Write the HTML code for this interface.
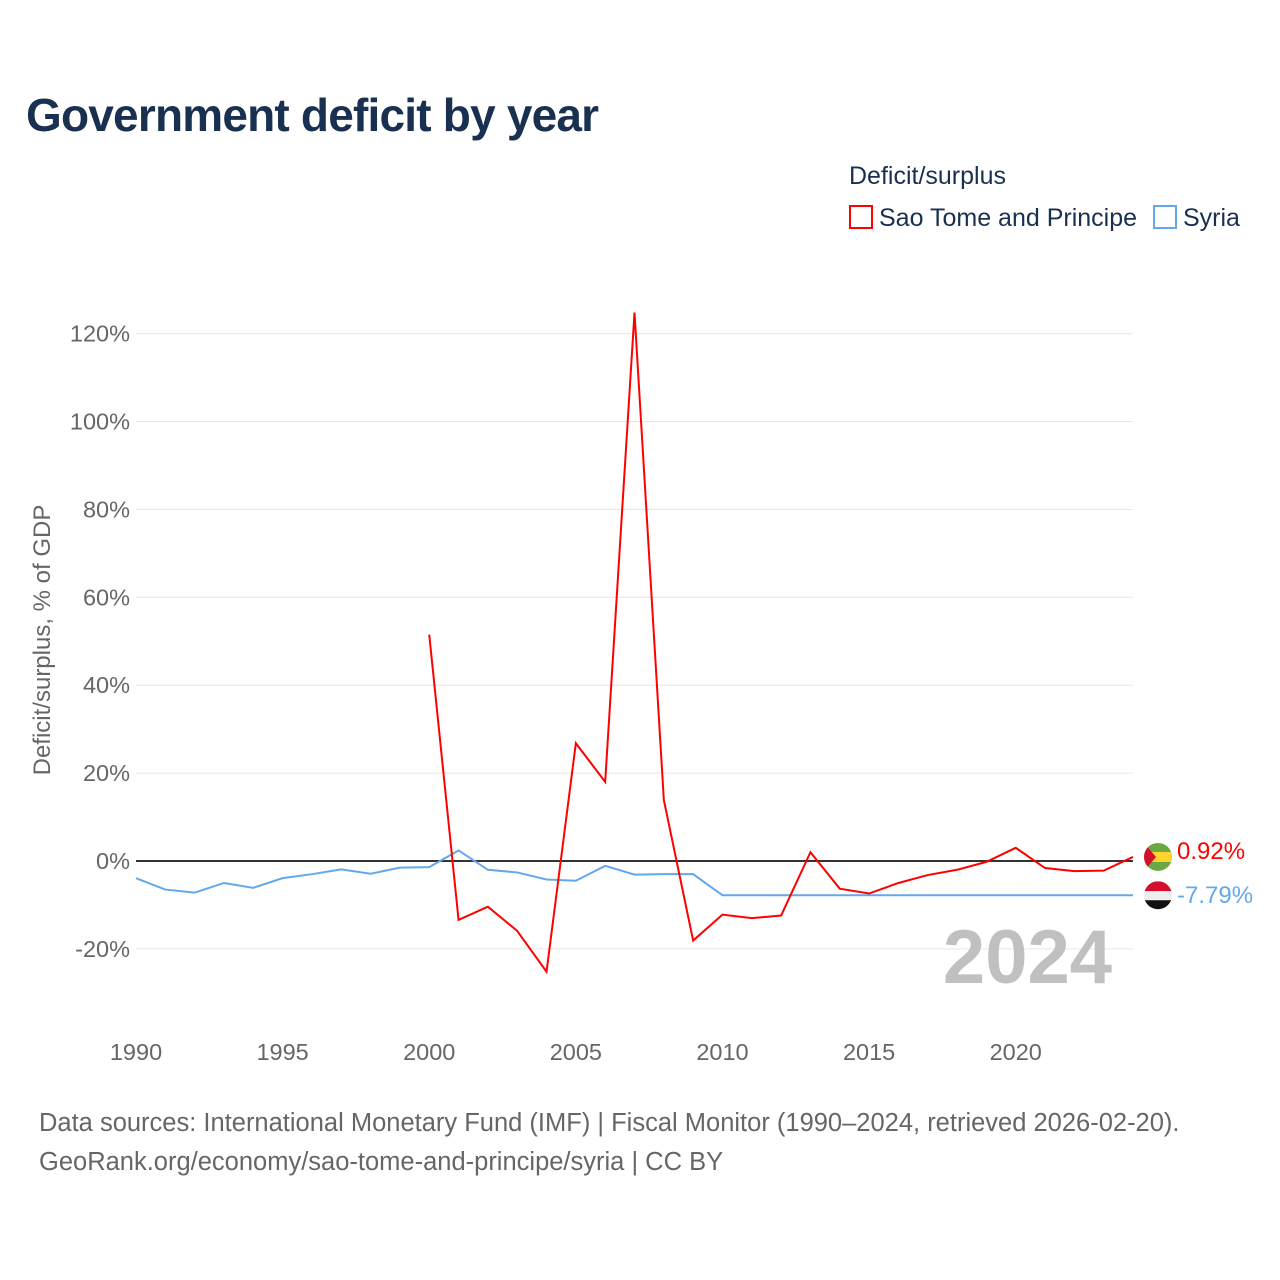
<!DOCTYPE html>
<html><head><meta charset="utf-8">
<style>
body{margin:0;background:#fff;font-family:"Liberation Sans",sans-serif;}
#wrap{position:relative;width:1280px;height:1280px;overflow:hidden;}
.t{position:absolute;white-space:nowrap;}
</style></head><body>
<div id="wrap">
<div class="t" style="left:26px;top:88px;font-size:46px;font-weight:bold;color:#1a3050;letter-spacing:-0.8px">Government deficit by year</div>
<div class="t" style="left:849px;top:162px;font-size:25px;color:#1a3050">Deficit/surplus</div>
<div class="t" style="left:849px;top:204px;font-size:25px;color:#1a3050"><span style="display:inline-block;width:24px;height:24px;border:2px solid #f00;box-sizing:border-box;vertical-align:-3px;margin-right:6px"></span>Sao Tome and Principe</div>
<div class="t" style="left:1153px;top:204px;font-size:25px;color:#1a3050"><span style="display:inline-block;width:24px;height:24px;border:2px solid #64a8ec;box-sizing:border-box;vertical-align:-3px;margin-right:6px"></span>Syria</div>
<svg id="chart" width="1280" height="1280" style="position:absolute;left:0;top:0"></svg>
<div class="t" style="left:39px;top:1104px;font-size:25.5px;color:#666;line-height:39px">Data sources: International Monetary Fund (IMF) | Fiscal Monitor (1990–2024, retrieved 2026-02-20).<br>GeoRank.org/economy/sao-tome-and-principe/syria | CC BY</div>
</div>
<script>
const years=[];for(let y=1990;y<=2024;y++)years.push(y);
const syria=[-3.9,-6.5,-7.2,-5,-6.1,-3.9,-3,-1.9,-2.9,-1.5,-1.4,2.4,-2,-2.6,-4.2,-4.5,-1.1,-3.1,-3,-3,-7.79,-7.79,-7.79,-7.79,-7.79,-7.79,-7.79,-7.79,-7.79,-7.79,-7.79,-7.79,-7.79,-7.79,-7.79];
const stpYears=[2000,2001,2002,2003,2004,2005,2006,2007,2008,2009,2010,2011,2012,2013,2014,2015,2016,2017,2018,2019,2020,2021,2022,2023,2024];
const stp=[51.5,-13.4,-10.4,-15.9,-25.2,26.8,18,124.8,13.9,-18.1,-12.2,-13,-12.4,2,-6.3,-7.4,-5,-3.2,-2,-0.2,3,-1.6,-2.3,-2.2,0.92];
const yTicks=[-20,0,20,40,60,80,100,120];
const xTicks=[1990,1995,2000,2005,2010,2015,2020];
const NS="http://www.w3.org/2000/svg";
const svg=document.getElementById('chart');
const X=y=>136+(y-1990)*(997/34);
const Y=v=>861-v*4.395;
function el(t,a){const e=document.createElementNS(NS,t);for(const k in a)e.setAttribute(k,a[k]);svg.appendChild(e);return e;}
yTicks.forEach(v=>{
  const g=el('line',{x1:136,x2:1133,y1:Y(v),y2:Y(v),stroke:v===0?'#333':'#e6e6e6','stroke-width':v===0?2:1});
  
  
  const t=el('text',{x:130,y:Y(v)+8,'text-anchor':'end','font-size':23.5,fill:'#666','font-family':'Liberation Sans'});
  t.textContent=v+'%';
  
  
});
xTicks.forEach(v=>{
  const t=el('text',{x:X(v),y:1060,'text-anchor':'middle','font-size':23.5,fill:'#666','font-family':'Liberation Sans'});
  t.textContent=v;
  
  
});
const yt=el('text',{transform:'translate(50,640) rotate(-90)','text-anchor':'middle','font-size':24,fill:'#666','font-family':'Liberation Sans'});
yt.textContent='Deficit/surplus, % of GDP';


const yr=el('text',{x:1112,y:983,'text-anchor':'end','font-size':76,'font-weight':'bold',fill:'#c0c0c0','font-family':'Liberation Sans'});
yr.textContent='2024';


const sp=el('polyline',{points:years.map((y,i)=>X(y)+','+Y(syria[i])).join(' '),fill:'none',stroke:'#64a8ec','stroke-width':2});


const rp=el('polyline',{points:stpYears.map((y,i)=>X(y)+','+Y(stp[i])).join(' '),fill:'none',stroke:'#f00','stroke-width':2});


const ys=Y(stp[stp.length-1]), yy=Y(syria[syria.length-1]);
const fl1=el('g',{});


fl1.innerHTML=`<clipPath id="c1"><circle cx="1158" cy="${ys}" r="14"/></clipPath><g clip-path="url(#c1)"><rect x="1144" y="${ys-14}" width="28" height="28" fill="#6aa842"/><rect x="1144" y="${ys-5}" width="28" height="10" fill="#ffd42e"/><polygon points="1144,${ys-14} 1156,${ys} 1144,${ys+14}" fill="#d2102e"/></g>`;
const fl2=el('g',{});


fl2.innerHTML=`<clipPath id="c2"><circle cx="1158" cy="${yy}" r="14"/></clipPath><g clip-path="url(#c2)"><rect x="1144" y="${yy-14}" width="28" height="10" fill="#d2102e"/><rect x="1144" y="${yy-4}" width="28" height="9" fill="#eee"/><rect x="1144" y="${yy+5}" width="28" height="10" fill="#111"/></g>`;
const l1=el('text',{x:1177,y:ys+2,'font-size':24,fill:'#f00','font-family':'Liberation Sans'});
l1.textContent=stp[stp.length-1].toFixed(2)+'%';


const l2=el('text',{x:1177,y:yy+8,'font-size':24,fill:'#64a8ec','font-family':'Liberation Sans'});
l2.textContent=syria[syria.length-1].toFixed(2)+'%';


</script>
</body></html>
